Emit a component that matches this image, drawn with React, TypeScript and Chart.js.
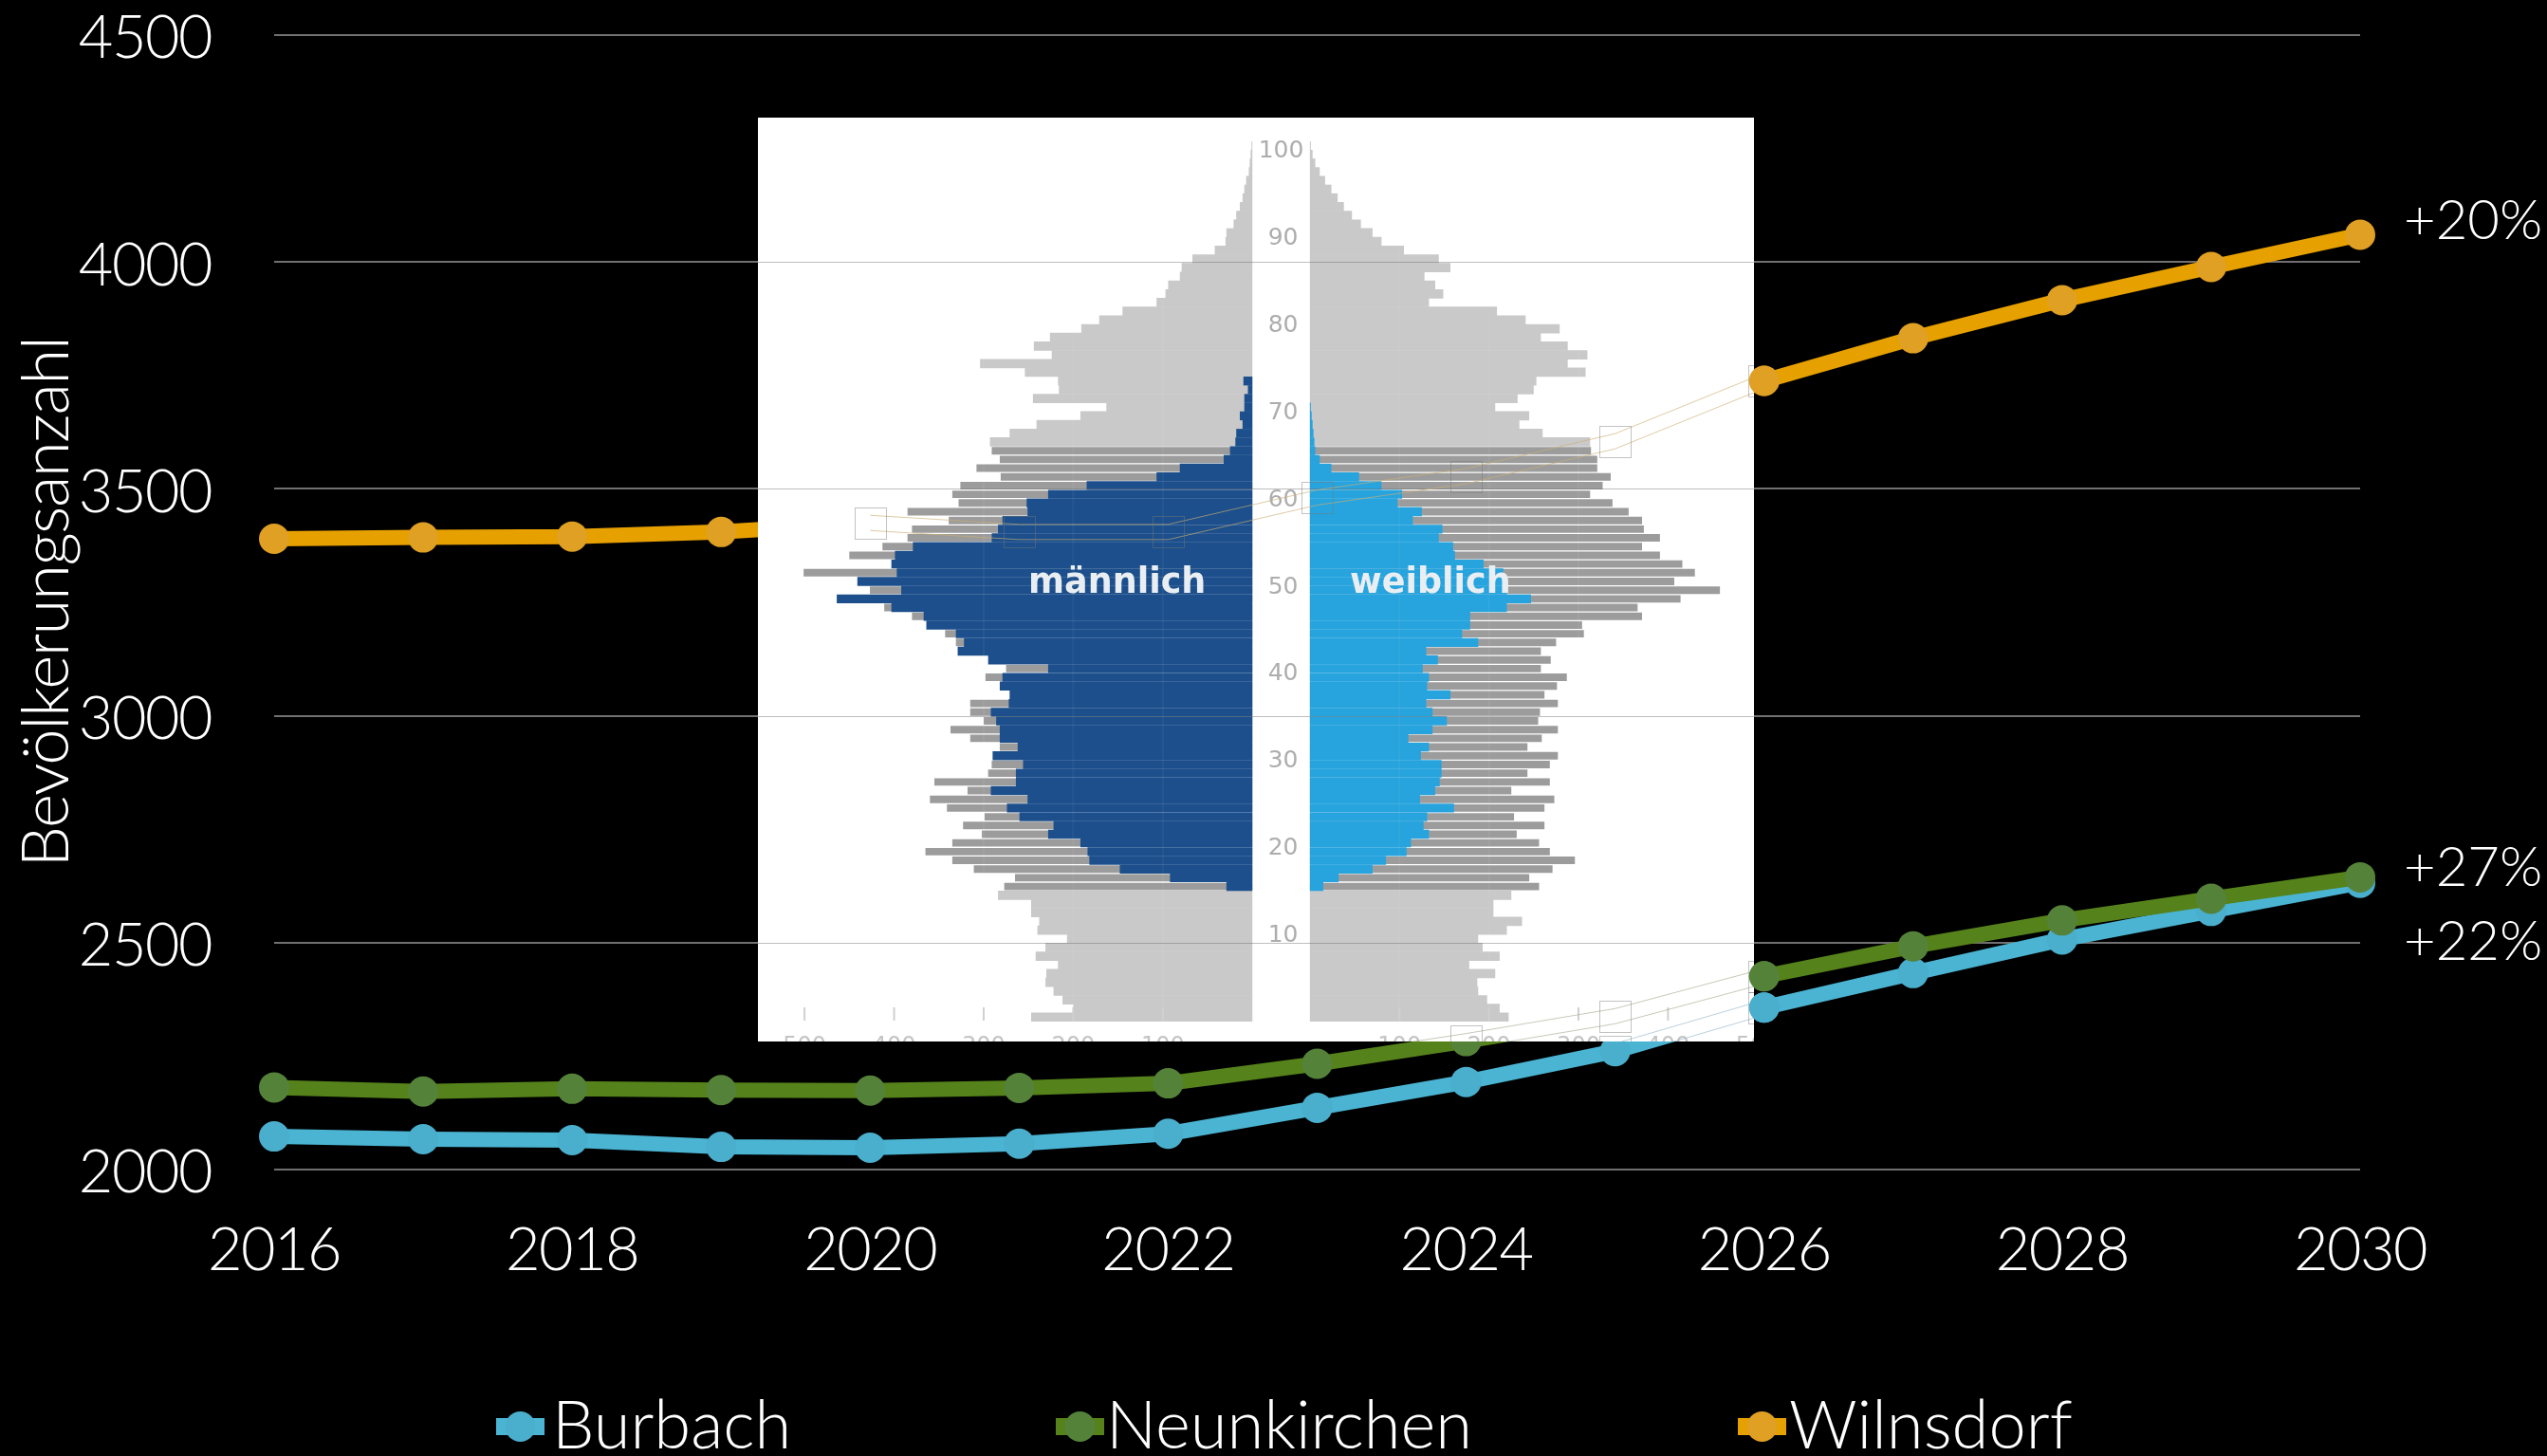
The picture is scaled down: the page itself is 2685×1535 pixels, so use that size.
import React, { useEffect, useRef } from "react";
import { Chart, registerables } from "chart.js";

Chart.register(...registerables);

// ---- line chart data ----
const years = ["2016","2017","2018","2019","2020","2021","2022","2023","2024","2025","2026","2027","2028","2029","2030"];
const yTicks = [2000, 2500, 3000, 3500, 4000, 4500];
const burbach = [2073, 2067, 2065, 2050, 2048, 2057, 2079, 2136, 2193, 2261, 2357, 2433, 2507, 2570, 2632];
const neunkirchen = [2181, 2172, 2178, 2175, 2174, 2180, 2190, 2233, 2283, 2338, 2426, 2492, 2549, 2597, 2644];
const wilnsdorf = [3390, 3393, 3395, 3405, 3425, 3405, 3405, 3481, 3528, 3605, 3738, 3832, 3916, 3989, 4060];
const seriesNames = ["Burbach", "Neunkirchen", "Wilnsdorf"];
const pctTexts = ["+22%", "+27%", "+20%"];
const yAxisTitle = "Bevölkerungsanzahl";

// ---- population pyramid data (index = age) ----
const ages = Array.from({ length: 101 }, (_, i) => String(i));
const maleTotal = [247,200,212,222,231,230,217,242,231,207,240,238,247,247,284,277,265,311,335,365,335,302,323,299,341,360,318,355,295,291,285,282,315,337,300,315,315,265,275,298,275,285,320,331,343,355,380,411,455,427,430,501,395,450,413,385,380,339,385,328,335,326,281,308,282,291,293,271,241,192,163,245,216,217,254,304,224,244,226,191,171,145,107,97,94,81,79,67,42,30,29,21,18,14,11,9,7,4,3,2,1];
const femaleTotal = [222,212,198,188,187,207,178,212,193,188,220,237,205,205,225,256,245,271,296,268,256,231,262,228,262,273,225,268,243,268,277,243,259,277,255,257,277,262,276,287,258,269,258,275,306,304,371,366,414,458,407,430,416,391,371,391,373,371,356,338,313,327,336,321,321,314,313,260,234,245,207,232,250,253,308,288,310,288,258,279,241,209,133,149,140,128,157,144,105,80,70,57,47,38,31,24,17,11,6,3,1];
const maleWorkFromAge15 = [29,92,148,182,184,192,228,222,260,274,251,292,264,264,256,290,262,282,282,286,292,272,271,282,279,228,295,329,322,331,364,367,403,464,392,441,397,403,399,379,291,284,279,251,252,228,185,107,81,32,25,19,18,11,14,9,9,5,10];
const femaleWorkFromAge15 = [15,32,70,85,108,113,133,127,131,161,123,140,145,147,147,124,133,110,137,153,137,130,157,131,133,126,143,130,188,170,179,179,220,247,220,220,216,194,162,160,144,148,115,125,98,103,80,55,24,11,6,5,4,3,2,1];
const ageLabels = [100, 90, 80, 70, 60, 50, 40, 30, 20, 10];
const pyramidTicks = [100, 200, 300, 400, 500];

const FONT = "Lato";
const BLUE = "#4ab4d2", BLUE_PT = "#4aaecd";
const GREEN = "#55821a", GREEN_PT = "#558239";
const ORANGE = "#e6a000", ORANGE_PT = "#dfa023";
const lineColors = [BLUE, GREEN, ORANGE];
const pointColors = [BLUE_PT, GREEN_PT, ORANGE_PT];
const seriesValues = [burbach, neunkirchen, wilnsdorf];

const W = 2685, H = 1535;
const IMG = { x: 799, y: 124, w: 1050, h: 974 };
const PLOT_TOP = 37;

function baseScales(visible: boolean) {
  const tickColor = visible ? "#ffffff" : "transparent";
  return {
    x: {
      type: "category" as const,
      offset: false,
      grid: { display: false, drawTicks: false },
      border: { display: false },
      afterFit: (s: any) => { s.height = H - 1233; },
      ticks: {
        color: tickColor,
        padding: 48,
        maxRotation: 0,
        autoSkip: false,
        font: { family: FONT, weight: "300", size: 63 },
        callback: (_: any, i: number) => (i % 2 === 0 ? years[i] : ""),
      },
    },
    y: {
      min: 2000,
      max: 4500,
      afterBuildTicks: (s: any) => { s.ticks = yTicks.map((value) => ({ value })); },
      afterFit: (s: any) => { s.width = 289; s.paddingTop = 0; s.paddingBottom = 0; },
      grid: { display: visible, color: "#707070", lineWidth: 2, drawTicks: false },
      border: { display: false },
      ticks: {
        color: tickColor,
        padding: 66,
        labelOffset: 4,
        font: { family: FONT, weight: "300", size: 63 },
        callback: (v: any) => String(v),
      },
      title: {
        display: true,
        text: yAxisTitle,
        color: tickColor,
        padding: { top: 8, bottom: 0 },
        font: { family: FONT, weight: "300", size: 69 },
      },
    },
  };
}

const basePadding = { left: 0, top: PLOT_TOP, right: W - 2488, bottom: 0 };

// keeps the plot's top edge where the reference has it
const plotTop = {
  id: "plotTop",
  afterLayout(chart: any) {
    const a = chart.chartArea;
    const y = chart.scales.y;
    a.top = PLOT_TOP;
    a.height = a.bottom - PLOT_TOP;
    y.top = PLOT_TOP;
    y.height = a.bottom - PLOT_TOP;
    y.configure();
  },
};

// percentage labels and custom legend on the main chart
const mainDecor = {
  id: "mainDecor",
  beforeDraw(chart: any) {
    chart.ctx.letterSpacing = "-1.5px";
  },
  afterDraw(chart: any) {
    const { ctx, scales } = chart;
    ctx.save();
    ctx.letterSpacing = "0px";
    ctx.fillStyle = "#ffffff";
    ctx.textAlign = "left";
    ctx.textBaseline = "middle";
    ctx.font = `300 58px ${FONT}`;
    const last = years.length - 1;
    const pctDy = [63, -10, -14];
    pctTexts.forEach((t, i) => {
      const px = scales.x.getPixelForValue(last) + 46;
      const py = scales.y.getPixelForValue(seriesValues[i][last]) + pctDy[i];
      ctx.fillText(t, px, py);
    });
    const legendX = [523, 1113, 1832];
    const legendTextX = [582, 1166, 1886];
    const legendY = 1504;
    ctx.font = `300 70.5px ${FONT}`;
    seriesNames.forEach((name, i) => {
      ctx.fillStyle = lineColors[i];
      ctx.fillRect(legendX[i], legendY - 9, 51, 18);
      ctx.fillStyle = pointColors[i];
      ctx.beginPath();
      ctx.arc(legendX[i] + 25.5, legendY, 16, 0, Math.PI * 2);
      ctx.fill();
      ctx.fillStyle = "#ffffff";
      ctx.fillText(name, legendTextX[i], legendY);
    });
    ctx.restore();
  },
};

// what shows through on top of the white picture: grid lines and outlines of the hidden lines
const overlayDecor = {
  id: "overlayDecor",
  beforeDatasetsDraw(chart: any) {
    const { ctx, scales } = chart;
    ctx.save();
    ctx.beginPath();
    ctx.rect(IMG.x, IMG.y, IMG.w, IMG.h);
    ctx.clip();
    ctx.lineWidth = 1;
    ctx.strokeStyle = "rgba(110,110,110,0.45)";
    yTicks.forEach((v) => {
      const py = Math.round(scales.y.getPixelForValue(v)) + 0.5;
      ctx.beginPath();
      ctx.moveTo(IMG.x, py);
      ctx.lineTo(IMG.x + IMG.w, py);
      ctx.stroke();
    });
    const ghost = ["rgba(150,185,200,0.65)", "rgba(165,175,145,0.65)", "rgba(205,175,115,0.65)"];
    seriesValues.forEach((vals, s) => {
      ctx.strokeStyle = ghost[s];
      [-8, 8].forEach((off) => {
        ctx.beginPath();
        for (let i = 4; i <= 10; i++) {
          const px = scales.x.getPixelForValue(i);
          const py = scales.y.getPixelForValue(vals[i]) + off;
          if (i === 4) ctx.moveTo(px, py);
          else ctx.lineTo(px, py);
        }
        ctx.stroke();
      });
      ctx.strokeStyle = "rgba(120,120,120,0.45)";
      for (let i = 4; i <= 10; i++) {
        const px = scales.x.getPixelForValue(i);
        const py = scales.y.getPixelForValue(vals[i]);
        ctx.strokeRect(Math.round(px - 16.5) + 0.5, Math.round(py - 16.5) + 0.5, 33, 33);
      }
    });
    ctx.restore();
  },
};

const pyramidDecor = {
  id: "pyramidDecor",
  afterDatasetsDraw(chart: any) {
    const { ctx, scales, chartArea } = chart;
    ctx.save();
    // faint value grid inside the bars
    ctx.strokeStyle = "rgba(255,255,255,0.05)";
    ctx.lineWidth = 2;
    [scales.xM, scales.xF].forEach((sc: any) => {
      [100, 200, 300].forEach((v) => {
        const px = sc.getPixelForValue(v);
        ctx.beginPath();
        ctx.moveTo(px, chartArea.top);
        ctx.lineTo(px, chartArea.bottom);
        ctx.stroke();
      });
    });
    // age labels in the central gap
    const midX = (scales.xM.getPixelForValue(0) + scales.xF.getPixelForValue(0)) / 2;
    ctx.fillStyle = "#adadad";
    ctx.textAlign = "center";
    ctx.textBaseline = "middle";
    ctx.font = `25px "DejaVu Sans"`;
    ageLabels.forEach((a) => {
      ctx.fillText(String(a), midX + (a === 100 ? 0 : 2), scales.y.getPixelForValue(a) + 6);
    });
    // sex labels
    ctx.fillStyle = "#e9eef2";
    ctx.font = `bold 36.5px "DejaVu Sans"`;
    ctx.fillText("männlich", scales.xM.getPixelForValue(151), scales.y.getPixelForValue(50) + 3);
    ctx.fillText("weiblich", scales.xF.getPixelForValue(134.5), scales.y.getPixelForValue(50) + 3);
    // value axis, cut by the bottom edge of the picture
    ctx.strokeStyle = "#d0d0d0";
    ctx.lineWidth = 2;
    ctx.fillStyle = "#c4c4c4";
    ctx.font = `24px "DejaVu Sans"`;
    ctx.textBaseline = "top";
    const axisY = chart.height - 36;
    [scales.xM, scales.xF].forEach((sc: any) => {
      pyramidTicks.forEach((v) => {
        const px = sc.getPixelForValue(v);
        ctx.beginPath();
        ctx.moveTo(px, axisY);
        ctx.lineTo(px, axisY + 14);
        ctx.stroke();
        ctx.fillText(String(v), px, chart.height - 6);
      });
    });
    ctx.restore();
  },
};

function workSeries(values: number[]) {
  return ages.map((_, a) => (a >= 15 && a - 15 < values.length ? values[a - 15] : null));
}
const isDark = (a: number) => a >= 15 && a <= 65;
const darkOf = (vals: number[]) => vals.map((v, a) => (isDark(a) ? v : null));
const lightOf = (vals: number[]) => vals.map((v, a) => (isDark(a) ? null : v));

export default function App() {
  const mainRef = useRef<HTMLCanvasElement>(null);
  const pyrRef = useRef<HTMLCanvasElement>(null);
  const overRef = useRef<HTMLCanvasElement>(null);

  useEffect(() => {
    document.body.style.margin = "0";
    document.body.style.background = "#000";

    const lineDatasets = seriesNames.map((name, i) => ({
      label: name,
      data: seriesValues[i],
      borderColor: lineColors[i],
      backgroundColor: pointColors[i],
      pointBackgroundColor: pointColors[i],
      pointBorderWidth: 0,
      pointRadius: 16,
      borderWidth: 16,
      tension: 0,
      order: 3 - i,
    }));

    const main = new Chart(mainRef.current!, {
      type: "line",
      data: { labels: years, datasets: lineDatasets },
      options: {
        animation: false,
        responsive: false,
        devicePixelRatio: 1,
        layout: { padding: basePadding, autoPadding: false },
        scales: baseScales(true) as any,
        plugins: { legend: { display: false }, tooltip: { enabled: false } },
      },
      plugins: [plotTop, mainDecor],
    });

    const barCommon = { grouped: false, borderWidth: 0 };
    const pyramid = new Chart(pyrRef.current!, {
      type: "bar",
      data: {
        labels: ages,
        datasets: [
          { label: "männlich", data: workSeries(maleWorkFromAge15), xAxisID: "xM", backgroundColor: "#1c4f8b", barPercentage: 1.02, categoryPercentage: 1, order: 1, ...barCommon },
          { label: "weiblich", data: workSeries(femaleWorkFromAge15), xAxisID: "xF", backgroundColor: "#27a3dd", barPercentage: 1.02, categoryPercentage: 1, order: 1, ...barCommon },
          { label: "m 15-65", data: darkOf(maleTotal), xAxisID: "xM", backgroundColor: "#9c9c9c", barPercentage: 0.86, categoryPercentage: 1, order: 2, ...barCommon },
          { label: "w 15-65", data: darkOf(femaleTotal), xAxisID: "xF", backgroundColor: "#9c9c9c", barPercentage: 0.86, categoryPercentage: 1, order: 2, ...barCommon },
          { label: "m sonst", data: lightOf(maleTotal), xAxisID: "xM", backgroundColor: "#c9c9c9", barPercentage: 1.06, categoryPercentage: 1, order: 3, ...barCommon },
          { label: "w sonst", data: lightOf(femaleTotal), xAxisID: "xF", backgroundColor: "#c9c9c9", barPercentage: 1.06, categoryPercentage: 1, order: 3, ...barCommon },
        ] as any,
      },
      options: {
        indexAxis: "y",
        animation: false,
        responsive: false,
        devicePixelRatio: 1,
        layout: { padding: { top: 25, bottom: 21, left: 0, right: 0 }, autoPadding: false },
        scales: {
          y: { type: "category", reverse: true, display: false },
          xM: { type: "linear", position: "bottom", reverse: true, min: -560, max: 552, display: false },
          xF: { type: "linear", position: "bottom", min: -616.5, max: 496, display: false },
        } as any,
        plugins: { legend: { display: false }, tooltip: { enabled: false } },
      },
      plugins: [
        {
          id: "whiteBg",
          beforeDraw(c: any) {
            c.ctx.fillStyle = "#fff";
            c.ctx.fillRect(0, 0, c.width, c.height);
          },
        },
        pyramidDecor,
      ],
    });

    const overlay = new Chart(overRef.current!, {
      type: "line",
      data: {
        labels: years,
        datasets: seriesNames.map((name, i) => ({
          label: name,
          data: seriesValues[i],
          showLine: false,
          backgroundColor: pointColors[i],
          pointBackgroundColor: pointColors[i],
          pointBorderWidth: 0,
          pointRadius: years.map((y) => (y === "2026" ? 16 : 0)),
          order: 3 - i,
        })),
      },
      options: {
        animation: false,
        responsive: false,
        devicePixelRatio: 1,
        layout: { padding: basePadding, autoPadding: false },
        scales: baseScales(false) as any,
        plugins: { legend: { display: false }, tooltip: { enabled: false } },
      },
      plugins: [plotTop, overlayDecor],
    });

    return () => {
      main.destroy();
      pyramid.destroy();
      overlay.destroy();
    };
  }, []);

  const abs = { position: "absolute" as const, display: "block" };
  return (
    <div style={{ position: "absolute", left: 0, top: 0, width: W, height: H, background: "#000", overflow: "hidden" }}>
      <canvas ref={mainRef} width={W} height={H} style={{ ...abs, left: 0, top: 0 }} />
      <canvas ref={pyrRef} width={IMG.w} height={IMG.h} style={{ ...abs, left: IMG.x, top: IMG.y }} />
      <canvas ref={overRef} width={W} height={H} style={{ ...abs, left: 0, top: 0 }} />
    </div>
  );
}
